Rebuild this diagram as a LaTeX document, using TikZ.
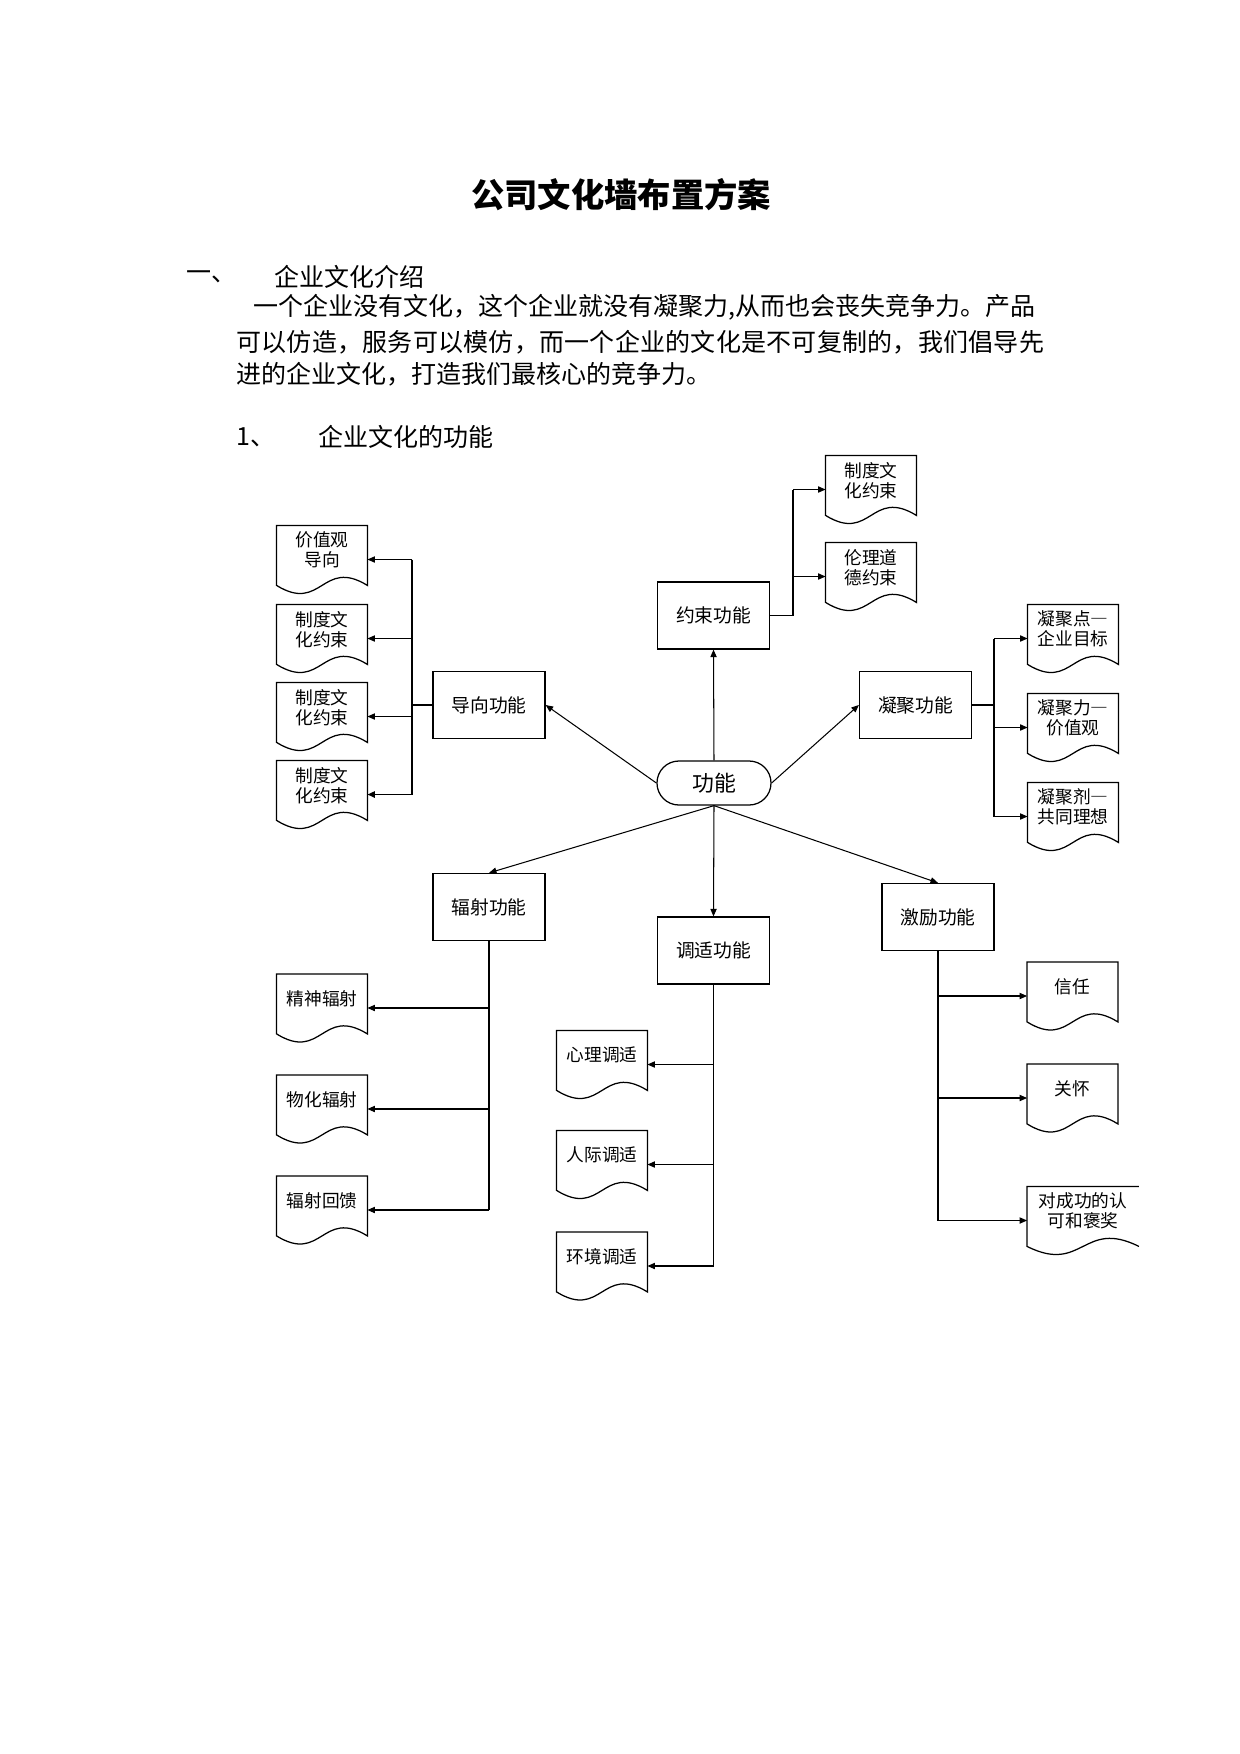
\documentclass[tikz,border=0pt]{standalone}
\usepackage{fontspec}
\setmainfont{Noto Sans CJK SC}
\usetikzlibrary{arrows.meta,calc}
\tikzset{
  x=0.48pt,y=-0.48pt,
  conn/.style={line width=0.5pt},
  arr/.style={conn,-{Triangle[length=3.6pt,width=3pt]}},
  heavy/.style={line width=0.9pt},
  heavyarr/.style={heavy,-{Triangle[length=3.6pt,width=3pt]}},
  procbox/.style={draw,line width=0.6pt,minimum width=53.76pt,minimum height=32.16pt,inner sep=0pt,font=\fontsize{9}{11}\selectfont},
  docnode/.style={minimum width=43.2pt,minimum height=32.16pt,inner sep=0pt,align=center,font=\fontsize{8.5}{9.6}\selectfont},
  docline/.style={line width=0.6pt},
  termbox/.style={draw,line width=0.6pt,rounded corners=10.5pt,minimum width=54.72pt,minimum height=21.12pt,inner sep=0pt,font=\fontsize{10.5}{12}\selectfont},
  bodytext/.style={anchor=west,inner sep=0pt,font=\fontsize{12}{14}\selectfont},
}
\newcommand\dn{\rule[-9.6pt]{0pt}{9.6pt}}
\newcommand\fwdash{{\addfontfeatures{CharacterWidth=Full}—}}
\newcommand\docshape[1]{\draw[docline] (#1.north west) -- (#1.north east) -- ($(#1.south east)+(0,-8)$) .. controls ($(#1.south)+(0,-36)$) and ($(#1.south)+(0,20)$) .. ($(#1.south west)+(0,-8)$) -- cycle;}
\begin{document}
\begin{tikzpicture}
\fill[white] (0,0) rectangle (1240,1754);
\useasboundingbox (0,0) rectangle (1240,1754);

% heading text
\node[anchor=center,inner sep=0pt,font=\fontsize{16}{18}\selectfont\bfseries] (title) at (621,195) {公司文化墙布置方案};
\node[bodytext] (h1num) at (186,277) {一、};
\node[bodytext] (h1) at (274,277) {企业文化介绍};
\node[bodytext] (p1) at (253,307) {一个企业没有文化，这个企业就没有凝聚力,从而也会丧失竞争力。产品};
\node[bodytext] (p2) at (236,342) {\addfontfeatures{LetterSpace=1.0}可以仿造，服务可以模仿，而一个企业的文化是不可复制的，我们倡导先};
\node[bodytext] (p3) at (236,374) {进的企业文化，打造我们最核心的竞争力。};
\node[bodytext] (h2num) at (236,437) {1、};
\node[bodytext] (h2) at (318,437) {企业文化的功能};

% central terminal and process boxes
\node[termbox] (gn) at (714,783) {功能};
\node[procbox] (dx) at (489,705) {导向功能};
\node[procbox] (ys) at (713.5,615.5) {约束功能};
\node[procbox] (nj) at (915.5,705) {凝聚功能};
\node[procbox] (fs) at (489,907) {辐射功能};
\node[procbox] (tsh) at (713.5,950.5) {调适功能};
\node[procbox] (jl) at (938,917) {激励功能};

% documents
\node[docnode] (L1) at (322,559.5) {价值观\\导向\dn};
\node[docnode] (L2) at (322,638.5) {制度文\\化约束\dn};
\node[docnode] (L3) at (322,716.5) {制度文\\化约束\dn};
\node[docnode] (L4) at (322,794.5) {制度文\\化约束\dn};
\node[docnode] (T1) at (871,489.5) {制度文\\化约束\dn};
\node[docnode] (T2) at (871,576.5) {伦理道\\德约束\dn};
\node[docnode] (R1) at (1073,638.5) {凝聚点\fwdash\\企业目标\dn};
\node[docnode] (R2) at (1073,727.5) {凝聚力\fwdash\\价值观\dn};
\node[docnode] (R3) at (1073,816.5) {凝聚剂\fwdash\\共同理想\dn};
\node[docnode] (B1) at (322,1008) {精神辐射\dn};
\node[docnode] (B2) at (322,1109) {物化辐射\dn};
\node[docnode] (B3) at (322,1210) {辐射回馈\dn};
\node[docnode] (M1) at (602,1064.5) {心理调适\dn};
\node[docnode] (M2) at (602,1164.5) {人际调适\dn};
\node[docnode] (M3) at (602,1266) {环境调适\dn};
\node[docnode] (E1) at (1072.5,996) {信任\dn};
\node[docnode] (E2) at (1072.5,1098) {关怀\dn};
\node[docnode,minimum width=53.28pt] (E3) at (1083,1220.5) {对成功的认\\可和褒奖\dn};

\foreach \d in {L1,L2,L3,L4,T1,T2,R1,R2,R3,B1,B2,B3,M1,M2,M3,E1,E2}{\docshape{\d}}
\draw[docline] (E3.north east) -- (E3.north west) -- ($(E3.south west)+(0,-8)$) .. controls ($(E3.south)+(0,20)$) and ($(E3.south)+(0,-36)$) .. ($(E3.south east)+(0,-8)$);

% radial arrows from the centre
\draw[arr] (gn.north) -- (ys.south);
\draw[arr] (gn.west) -- (dx.east);
\draw[arr] (gn.east) -- (nj.west);
\draw[arr] (gn.south) -- (fs.north);
\draw[arr] (gn.south) -- (tsh.north);
\draw[arr] (gn.south) -- (jl.north);

% 导向 branch
\coordinate (dxbus) at (412,705);
\draw[conn] (dx.west) -- (dxbus);
\draw[heavy] (dxbus |- L1.east) -- (dxbus |- L4.east);
\foreach \d in {L1,L2,L3}{\draw[arr] (dxbus |- \d.east) -- (\d.east);}
\draw[heavyarr] (dxbus |- L4.east) -- (L4.east);

% 约束 branch
\coordinate (ysbus) at (793,615.5);
\draw[heavy] (ys.east) -- (ysbus);
\draw[conn] (ysbus) -- (ysbus |- T1.west);
\foreach \d in {T1,T2}{\draw[arr] (ysbus |- \d.west) -- (\d.west);}

% 凝聚 branch
\coordinate (njbus) at (994,705);
\draw[conn] (nj.east) -- (njbus);
\draw[conn] (njbus |- R1.west) -- (njbus |- R3.west);
\foreach \d in {R1,R2,R3}{\draw[arr] (njbus |- \d.west) -- (\d.west);}

% 辐射 branch
\draw[conn] (fs.south) -- (fs.south |- B3.east);
\foreach \d in {B1,B2,B3}{\draw[arr] (fs.south |- \d.east) -- (\d.east);}

% 调适 branch
\draw[conn] (tsh.south) -- (tsh.south |- M3.east);
\foreach \d in {M1,M2,M3}{\draw[arr] (tsh.south |- \d.east) -- (\d.east);}

% 激励 branch
\draw[heavy] (jl.south) -- (jl.south |- E3.west);
\foreach \d in {E1,E2,E3}{\draw[arr] (jl.south |- \d.west) -- (\d.west);}
\end{tikzpicture}
\end{document}
